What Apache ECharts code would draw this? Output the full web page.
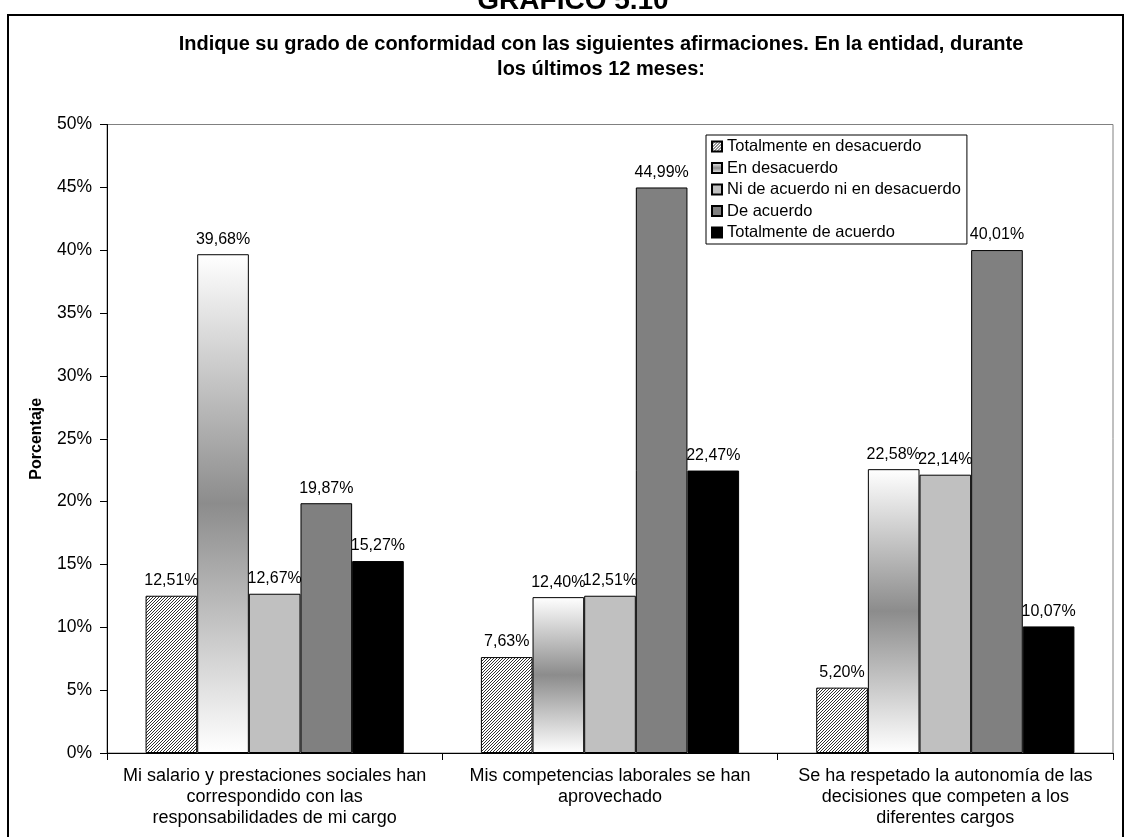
<!DOCTYPE html>
<html>
<head>
<meta charset="utf-8">
<script src="https://cdn.jsdelivr.net/npm/echarts@6/dist/echarts.min.js"></script>
<style>
  html, body { margin: 0; padding: 0; background: #ffffff; }
  #chart { width: 1131px; height: 837px; }
</style>
</head>
<body>
<div id="chart"></div>
<script>
// ---- data ----
var categories = [
  "Mi salario y prestaciones sociales han\ncorrespondido con las\nresponsabilidades de mi cargo",
  "Mis competencias laborales se han\naprovechado",
  "Se ha respetado la autonomía de las\ndecisiones que competen a los\ndiferentes cargos"
];
var seriesNames = [
  "Totalmente en desacuerdo",
  "En desacuerdo",
  "Ni de acuerdo ni en desacuerdo",
  "De acuerdo",
  "Totalmente de acuerdo"
];
var totalDesacuerdo = [12.51, 7.63, 5.20];
var enDesacuerdo = [39.68, 12.40, 22.58];
var niNi = [12.67, 12.51, 22.14];
var deAcuerdo = [19.87, 44.99, 40.01];
var totalAcuerdo = [15.27, 22.47, 10.07];
var yTicks = [0, 5, 10, 15, 20, 25, 30, 35, 40, 45, 50];

var FONT = "'Liberation Sans', Arial, sans-serif";

// hatched pattern
var pc = document.createElement('canvas');
pc.width = 3; pc.height = 3;
var g = pc.getContext('2d');
g.fillStyle = '#ffffff'; g.fillRect(0, 0, 3, 3);
g.fillStyle = '#303030';
g.fillRect(2, 0, 1, 1);
g.fillRect(1, 1, 1, 1);
g.fillRect(0, 2, 1, 1);

var fills = [
  { image: pc, repeat: 'repeat' },
  { type: 'linear', x: 0, y: 0, x2: 0, y2: 1, colorStops: [
      { offset: 0, color: '#ffffff' },
      { offset: 0.5, color: '#8c8c8c' },
      { offset: 1, color: '#ffffff' } ] },
  '#c0c0c0',
  '#808080',
  '#000000'
];
var dataSets = [totalDesacuerdo, enDesacuerdo, niNi, deAcuerdo, totalAcuerdo];

function fmt(v) { return v.toFixed(2).replace('.', ',') + '%'; }

var series = seriesNames.map(function (name, i) {
  return {
    name: name,
    type: 'bar',
    data: dataSets[i],
    barGap: '0%',
    barCategoryGap: '23%',
    itemStyle: { color: fills[i], borderColor: '#000000', borderWidth: 1 },
    label: {
      show: true, position: 'top', distance: 7,
      color: '#000', fontFamily: FONT, fontSize: 16,
      formatter: function (p) { return fmt(p.value); }
    },
    emphasis: { disabled: true }
  };
});

var chart = echarts.init(document.getElementById('chart'), null, { renderer: 'canvas' });
chart.setOption({
  animation: false,
  backgroundColor: '#ffffff',
  grid: {
    left: 107, right: 18, top: 124.5, bottom: 84,
    show: true, borderColor: '#808080', borderWidth: 1, backgroundColor: 'transparent'
  },
  legend: {
    orient: 'vertical',
    left: 706, top: 135,
    padding: [3, 6, 3, 5],
    backgroundColor: '#ffffff',
    borderColor: '#000000', borderWidth: 1,
    itemWidth: 10, itemHeight: 10, itemGap: 4.5,
    icon: 'rect',
    textStyle: { fontFamily: FONT, fontSize: 16.5, color: '#000', lineHeight: 16 },
    data: seriesNames
  },
  xAxis: {
    type: 'category',
    data: categories,
    axisLine: { lineStyle: { color: '#000', width: 1 } },
    axisTick: { show: true, length: 7, lineStyle: { color: '#000' } },
    axisLabel: { color: '#000', fontFamily: FONT, fontSize: 18, lineHeight: 21, margin: 13, interval: 0 }
  },
  yAxis: {
    type: 'value',
    min: 0, max: 50, interval: 5,
    name: 'Porcentaje',
    nameLocation: 'middle',
    nameGap: 62,
    nameTextStyle: { fontFamily: FONT, fontSize: 16, fontWeight: 'bold', color: '#000' },
    axisLine: { show: true, lineStyle: { color: '#000', width: 1 } },
    axisTick: { show: true, length: 7, lineStyle: { color: '#000' } },
    splitLine: { show: false },
    axisLabel: {
      color: '#000', fontFamily: FONT, fontSize: 17.5, margin: 15,
      formatter: function (v) { return yTicks.indexOf(v) >= 0 ? v + '%' : ''; }
    }
  },
  series: series,
  graphic: [
    { type: 'rect', silent: true, z: 100,
      shape: { x: 8, y: 15, width: 1115, height: 840 },
      style: { fill: 'none', stroke: '#000', lineWidth: 2 } },
    { type: 'text', silent: true, z: 100,
      style: { text: 'GRÁFICO 5.10', x: 573, y: 15, textAlign: 'center', textVerticalAlign: 'bottom',
        font: 'bold 28px ' + FONT, fill: '#000' } },
    { type: 'text', silent: true, z: 100,
      style: { text: 'Indique su grado de conformidad con las siguientes afirmaciones. En la entidad, durante\nlos últimos 12 meses:',
        x: 601, y: 31.5, textAlign: 'center', textVerticalAlign: 'top', lineHeight: 25,
        font: 'bold 20px ' + FONT, fill: '#000' } }
  ]
});
</script>
</body>
</html>
